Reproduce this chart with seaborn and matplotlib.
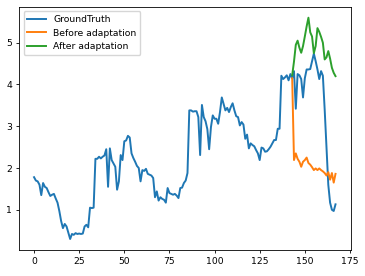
import numpy as np
import pandas as pd
import matplotlib
matplotlib.use("Agg")
import matplotlib.pyplot as plt
import seaborn as sns

# ground truth series, one value per step (0..167)
ground_truth = [
    1.78, 1.70, 1.68, 1.60, 1.35, 1.64, 1.55, 1.52, 1.42, 1.33,
    1.36, 1.38, 1.27, 1.17, 0.97, 0.73, 0.56, 0.66, 0.60, 0.45,
    0.30, 0.42, 0.40, 0.44, 0.42, 0.43, 0.42, 0.43, 0.60, 0.64,
    0.58, 1.05, 1.04, 1.05, 2.22, 2.22, 2.27, 2.23, 2.27, 2.30,
    2.45, 1.55, 2.47, 2.19, 2.11, 2.03, 1.48, 1.68, 2.31, 2.19,
    2.64, 2.66, 2.77, 2.73, 2.35, 2.24, 2.15, 2.05, 2.00, 1.68,
    1.95, 1.93, 1.98, 1.86, 1.84, 1.82, 1.76, 1.30, 1.44, 1.22,
    1.30, 1.26, 1.24, 1.17, 1.52, 1.40, 1.38, 1.36, 1.38, 1.34,
    1.28, 1.52, 1.53, 1.64, 1.70, 1.88, 3.38, 3.38, 3.35, 3.36,
    3.36, 3.22, 2.31, 3.51, 3.22, 3.12, 2.93, 2.45, 2.98, 3.26,
    3.18, 3.18, 3.06, 3.34, 3.69, 3.53, 3.38, 3.44, 3.34, 3.46,
    3.55, 3.38, 3.24, 3.22, 3.02, 3.10, 3.04, 2.70, 2.80, 2.47,
    2.59, 2.55, 2.52, 2.43, 2.35, 2.19, 2.49, 2.47, 2.39, 2.40,
    2.45, 2.51, 2.59, 2.67, 2.67, 2.94, 2.94, 4.21, 4.13, 4.17,
    4.22, 4.10, 4.25, 4.15, 4.32, 3.42, 4.25, 4.22, 4.13, 3.69,
    4.15, 4.36, 4.36, 4.37, 4.56, 4.74, 4.56, 4.36, 4.13, 4.32,
    4.21, 3.40, 2.50, 1.60, 1.17, 1.00, 0.97, 1.13,
]

# predictions start at step 143
pred_start = 143
before_adapt = [
    4.15, 2.19, 2.35, 2.22, 2.15, 2.03, 2.15, 2.19, 2.25, 2.12,
    2.08, 2.02, 1.95, 1.99, 1.95, 1.99, 1.95, 1.92, 1.88, 1.82,
    1.90, 1.72, 1.88, 1.65, 1.86,
]
after_adapt = [
    4.22, 4.55, 4.95, 5.05, 4.88, 4.76, 4.92, 5.15, 5.39, 5.60,
    5.25, 5.15, 4.75, 4.92, 5.35, 5.26, 5.14, 5.00, 4.60, 4.65,
    4.80, 4.62, 4.40, 4.28, 4.20,
]

gt_x = np.arange(len(ground_truth))
pred_x = np.arange(pred_start, pred_start + len(before_adapt))

plt.rcParams['font.size'] = 6.7
plt.rcParams['axes.linewidth'] = 0.6
plt.rcParams['xtick.major.width'] = 0.6
plt.rcParams['ytick.major.width'] = 0.6
plt.rcParams['xtick.major.size'] = 2.4
plt.rcParams['ytick.major.size'] = 2.4
plt.rcParams['xtick.major.pad'] = 2.4
plt.rcParams['ytick.major.pad'] = 2.4

fig = plt.figure(figsize=(3.65, 2.76), dpi=100)
ax = fig.add_axes([0.052, 0.094, 0.9085, 0.882])

lw = 1.4
sns.lineplot(x=gt_x, y=ground_truth, color='#1f77b4', lw=lw,
             label='GroundTruth', ax=ax)
sns.lineplot(x=pred_x, y=before_adapt, color='#ff7f0e', lw=lw,
             label='Before adaptation', ax=ax)
sns.lineplot(x=pred_x, y=after_adapt, color='#2ca02c', lw=lw,
             label='After adaptation', ax=ax)

ax.set_xticks([0, 25, 50, 75, 100, 125, 150, 175])
ax.set_yticks([1, 2, 3, 4, 5])
ax.set_xlabel('')
ax.set_ylabel('')
ax.legend(loc='upper left', frameon=True, handlelength=2.0,
          borderpad=0.4, labelspacing=0.5)

fig.savefig('out.png', dpi=100)
